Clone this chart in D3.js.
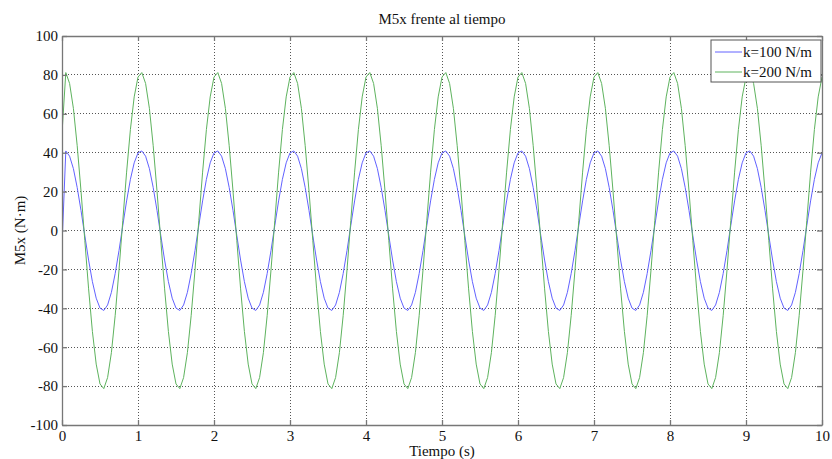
<!DOCTYPE html>
<html>
<head>
<meta charset="utf-8">
<script src="https://cdn.jsdelivr.net/npm/d3@7"></script>
<style>
  html, body { margin: 0; padding: 0; background: #fff; }
  svg { display: block; }
  svg text { font-family: "Liberation Serif", "DejaVu Serif", serif !important; fill: #111; }
</style>
</head>
<body>
<div id="chart"></div>
<script>
// ---- Data ----
const title = "M5x frente al tiempo";
const xLabel = "Tiempo (s)";
const yLabel = "M5x (N\u00b7m)";
const seriesNames = ["k=100 N/m", "k=200 N/m"];
const xTicks = [0, 1, 2, 3, 4, 5, 6, 7, 8, 9, 10];
const yTicks = [-100, -80, -60, -40, -20, 0, 20, 40, 60, 80, 100];

// time samples (s), step 0.05 s
const time = d3.range(0, 201).map(i => +(i * 0.05).toFixed(2));

// k=100 N/m series values (one row per second)
const m5x_k100 = [
  -8,
  40.9, 38.2, 31.8, 22.1, 10.3, -2.6, -15.2, -26.3, -34.8, -39.9, -41.1, -38.3, -31.8, -22.1, -10.3, 2.6, 15.2, 26.3, 34.8, 39.9,
  40.9, 38.2, 31.8, 22.1, 10.3, -2.6, -15.2, -26.3, -34.8, -39.9, -41.1, -38.3, -31.8, -22.1, -10.3, 2.6, 15.2, 26.3, 34.8, 39.9,
  40.9, 38.2, 31.8, 22.1, 10.3, -2.6, -15.2, -26.3, -34.8, -39.9, -41.1, -38.3, -31.8, -22.1, -10.3, 2.6, 15.2, 26.3, 34.8, 39.9,
  40.9, 38.2, 31.8, 22.1, 10.3, -2.6, -15.2, -26.3, -34.8, -39.9, -41.1, -38.3, -31.8, -22.1, -10.3, 2.6, 15.2, 26.3, 34.8, 39.9,
  40.9, 38.2, 31.8, 22.1, 10.3, -2.6, -15.2, -26.3, -34.8, -39.9, -41.1, -38.3, -31.8, -22.1, -10.3, 2.6, 15.2, 26.3, 34.8, 39.9,
  40.9, 38.2, 31.8, 22.1, 10.3, -2.6, -15.2, -26.3, -34.8, -39.9, -41.1, -38.3, -31.8, -22.1, -10.3, 2.6, 15.2, 26.3, 34.8, 39.9,
  40.9, 38.2, 31.8, 22.1, 10.3, -2.6, -15.2, -26.3, -34.8, -39.9, -41.1, -38.3, -31.8, -22.1, -10.3, 2.6, 15.2, 26.3, 34.8, 39.9,
  40.9, 38.2, 31.8, 22.1, 10.3, -2.6, -15.2, -26.3, -34.8, -39.9, -41.1, -38.3, -31.8, -22.1, -10.3, 2.6, 15.2, 26.3, 34.8, 39.9,
  40.9, 38.2, 31.8, 22.1, 10.3, -2.6, -15.2, -26.3, -34.8, -39.9, -41.1, -38.3, -31.8, -22.1, -10.3, 2.6, 15.2, 26.3, 34.8, 39.9,
  40.9, 38.2, 31.8, 22.1, 10.3, -2.6, -15.2, -26.3, -34.8, -39.9, -41.1, -38.3, -31.8, -22.1, -10.3, 2.6, 15.2, 26.3, 34.8, 39.9
];

// k=200 N/m series values (one row per second)
const m5x_k200 = [
  50,
  81.2, 75.6, 62.8, 43.6, 20.3, -5.1, -30.0, -51.9, -68.7, -78.9, -81.3, -75.6, -62.8, -43.6, -20.3, 5.1, 30.0, 51.9, 68.7, 78.9,
  81.2, 75.6, 62.8, 43.6, 20.3, -5.1, -30.0, -51.9, -68.7, -78.9, -81.3, -75.6, -62.8, -43.6, -20.3, 5.1, 30.0, 51.9, 68.7, 78.9,
  81.2, 75.6, 62.8, 43.6, 20.3, -5.1, -30.0, -51.9, -68.7, -78.9, -81.3, -75.6, -62.8, -43.6, -20.3, 5.1, 30.0, 51.9, 68.7, 78.9,
  81.2, 75.6, 62.8, 43.6, 20.3, -5.1, -30.0, -51.9, -68.7, -78.9, -81.3, -75.6, -62.8, -43.6, -20.3, 5.1, 30.0, 51.9, 68.7, 78.9,
  81.2, 75.6, 62.8, 43.6, 20.3, -5.1, -30.0, -51.9, -68.7, -78.9, -81.3, -75.6, -62.8, -43.6, -20.3, 5.1, 30.0, 51.9, 68.7, 78.9,
  81.2, 75.6, 62.8, 43.6, 20.3, -5.1, -30.0, -51.9, -68.7, -78.9, -81.3, -75.6, -62.8, -43.6, -20.3, 5.1, 30.0, 51.9, 68.7, 78.9,
  81.2, 75.6, 62.8, 43.6, 20.3, -5.1, -30.0, -51.9, -68.7, -78.9, -81.3, -75.6, -62.8, -43.6, -20.3, 5.1, 30.0, 51.9, 68.7, 78.9,
  81.2, 75.6, 62.8, 43.6, 20.3, -5.1, -30.0, -51.9, -68.7, -78.9, -81.3, -75.6, -62.8, -43.6, -20.3, 5.1, 30.0, 51.9, 68.7, 78.9,
  81.2, 75.6, 62.8, 43.6, 20.3, -5.1, -30.0, -51.9, -68.7, -78.9, -81.3, -75.6, -62.8, -43.6, -20.3, 5.1, 30.0, 51.9, 68.7, 78.9,
  81.2, 75.6, 62.8, 43.6, 20.3, -5.1, -30.0, -51.9, -68.7, -78.9, -81.3, -75.6, -62.8, -43.6, -20.3, 5.1, 30.0, 51.9, 68.7, 78.9
];

const seriesValues = [m5x_k100, m5x_k200];
const seriesColors = ["#6262ff", "#5eb35e"];

// ---- Layout ----
const W = 832, H = 459;
const margin = { left: 62, right: 10, top: 36, bottom: 34 };
const iw = W - margin.left - margin.right;   // 760
const ih = H - margin.top - margin.bottom;   // 389

const svg = d3.select("#chart").append("svg")
  .attr("width", W).attr("height", H);

const x = d3.scaleLinear().domain([0, 10]).range([margin.left, margin.left + iw]);
const y = d3.scaleLinear().domain([-100, 100]).range([margin.top + ih, margin.top]);

const g = svg.append("g");

// grid
g.append("g").selectAll("line").data(xTicks.slice(1, -1)).join("line")
  .attr("x1", d => x(d)).attr("x2", d => x(d))
  .attr("y1", y(-100)).attr("y2", y(100))
  .attr("stroke", "#555").attr("stroke-width", 1).attr("stroke-dasharray", "1,2")
  .attr("shape-rendering", "crispEdges");
g.append("g").selectAll("line").data(yTicks.slice(1, -1)).join("line")
  .attr("x1", x(0)).attr("x2", x(10))
  .attr("y1", d => y(d)).attr("y2", d => y(d))
  .attr("stroke", "#555").attr("stroke-width", 1).attr("stroke-dasharray", "1,2")
  .attr("shape-rendering", "crispEdges");

// clip for lines
svg.append("clipPath").attr("id", "clip").append("rect")
  .attr("x", margin.left).attr("y", margin.top).attr("width", iw).attr("height", ih);

const line = d3.line().x(d => x(d[0])).y(d => y(d[1]));
seriesValues.forEach((vals, si) => {
  g.append("path")
    .datum(time.map((t, i) => [t, vals[i]]))
    .attr("d", line)
    .attr("fill", "none")
    .attr("stroke", seriesColors[si])
    .attr("stroke-width", 1)
    .attr("clip-path", "url(#clip)");
});

// axes (MATLAB style: box with inward ticks)
const tickLen = 5;
const axisColor = "#777";
const fontSize = 15;
const fmt = d => String(d);

const axB = d3.axisBottom(x).tickValues(xTicks).tickSizeInner(-tickLen).tickSizeOuter(0).tickPadding(5).tickFormat(fmt);
const axT = d3.axisTop(x).tickValues(xTicks).tickSizeInner(-tickLen).tickSizeOuter(0).tickFormat("");
const axL = d3.axisLeft(y).tickValues(yTicks).tickSizeInner(-tickLen).tickSizeOuter(0).tickPadding(4).tickFormat(fmt);
const axR = d3.axisRight(y).tickValues(yTicks).tickSizeInner(-tickLen).tickSizeOuter(0).tickFormat("");

function styleAxis(sel) {
  sel.attr("font-family", null).attr("font-size", null);
  sel.selectAll("path, line").attr("stroke", axisColor).attr("stroke-width", 1.3);
  sel.selectAll("text").attr("fill", "#111").style("font-size", fontSize + "px");
}

svg.append("g").attr("transform", `translate(0,${y(-100)})`).call(axB).call(styleAxis);
svg.append("g").attr("transform", `translate(0,${y(100)})`).call(axT).call(styleAxis);
svg.append("g").attr("transform", `translate(${x(0)},0)`).call(axL).call(styleAxis);
svg.append("g").attr("transform", `translate(${x(10)},0)`).call(axR).call(styleAxis);

// title & labels
svg.append("text").attr("x", (x(0) + x(10)) / 2).attr("y", 24)
  .attr("text-anchor", "middle").style("font-size", "15px").text(title);
svg.append("text").attr("x", (x(0) + x(10)) / 2).attr("y", 456)
  .attr("text-anchor", "middle").style("font-size", "15px").text(xLabel);
svg.append("text")
  .attr("transform", `translate(25,${(y(-100) + y(100)) / 2}) rotate(-90)`)
  .attr("text-anchor", "middle").style("font-size", "15px").text(yLabel);

// legend
const lg = svg.append("g").attr("transform", "translate(711,40)");
lg.append("rect").attr("x", 0).attr("y", 0).attr("width", 110).attr("height", 42)
  .attr("fill", "#fff").attr("stroke", "#555").attr("stroke-width", 1);
seriesNames.forEach((name, i) => {
  const yy = 12 + i * 20;
  lg.append("line").attr("x1", 4).attr("x2", 31).attr("y1", yy).attr("y2", yy)
    .attr("stroke", seriesColors[i]).attr("stroke-width", 1);
  lg.append("text").attr("x", 32).attr("y", yy + 5).style("font-size", "15px").text(name);
});
</script>
</body>
</html>
